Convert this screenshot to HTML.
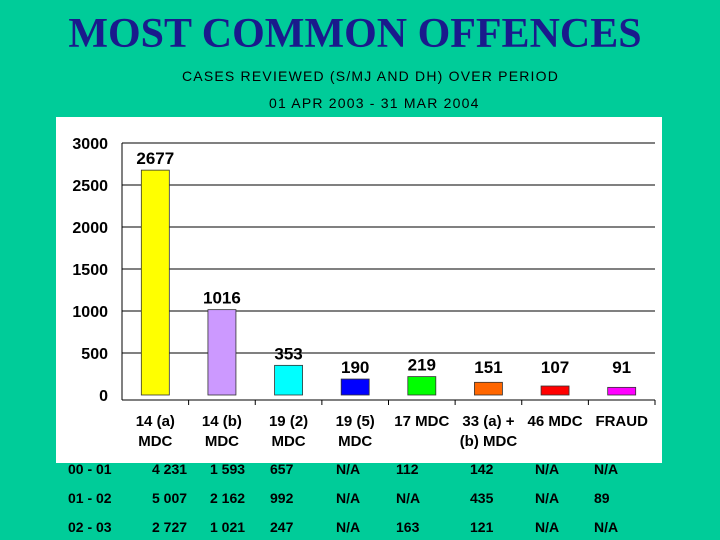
<!DOCTYPE html>
<html><head><meta charset="utf-8"><style>
body{margin:0;width:720px;height:540px;background:#00cc99;overflow:hidden;font-family:"Liberation Sans",sans-serif;position:relative}
.t{position:absolute;white-space:nowrap}
</style></head><body>
<div class="t" style="left:0;width:710px;text-align:center;top:10px;font-family:'Liberation Serif',serif;font-size:42px;font-weight:bold;color:#1a1a8c">MOST COMMON OFFENCES</div>
<div class="t" style="left:182px;top:68px;font-size:14px;letter-spacing:1.2px;color:#000">CASES REVIEWED (S/MJ AND DH) OVER PERIOD</div>
<div class="t" style="left:269px;top:95px;font-size:14px;letter-spacing:1.2px;color:#000">01 APR 2003 - 31 MAR 2004</div>
<svg width="720" height="540" style="position:absolute;left:0;top:0">
<rect x="56" y="117" width="606" height="346" fill="#fff"/>
<g id="g"></g>
</svg>
<div id="tbl"></div>
<script>
const categories=[["14 (a)","MDC"],["14 (b)","MDC"],["19 (2)","MDC"],["19 (5)","MDC"],["17 MDC",""],["33 (a) +","(b) MDC"],["46 MDC",""],["FRAUD",""]];
const values=[2677,1016,353,190,219,151,107,91];
const colors=["#ffff00","#cc99ff","#00ffff","#0000ff","#00ff00","#ff6600","#ff0000","#ff00ff"];
const ticks=[0,500,1000,1500,2000,2500,3000];
const rowLabels=["00 - 01","01 - 02","02 - 03"];
const rows=[["4 231","1 593","657","N/A","112","142","N/A","N/A"],["5 007","2 162","992","N/A","N/A","435","N/A","89"],["2 727","1 021","247","N/A","163","121","N/A","N/A"]];
const NS="http://www.w3.org/2000/svg",g=document.getElementById('g');
const x0=122,x1=655,yT=143,yB=395,max=3000;
const y=v=>yB-(v/max)*(yB-yT);
const bw=(x1-x0)/categories.length;
const cx=i=>x0+bw*(i+0.5);
function mk(t,a){const e=document.createElementNS(NS,t);for(const k in a)e.setAttribute(k,a[k]);g.appendChild(e);return e;}
ticks.forEach(t=>{
 if(t>0){const l=mk('line',{x1:x0,x2:x1,y1:y(t),y2:y(t),stroke:'#000','stroke-width':1});
 
 }
 const tx=mk('text',{x:x0-14,y:y(t)+6,'text-anchor':'end','font-size':16,'font-weight':'bold','font-family':'Liberation Sans'});
 tx.textContent=t;
 
 
});
const ax=mk('line',{x1:x0,x2:x0,y1:yT,y2:yB+5,stroke:'#000'});


const bx=mk('line',{x1:x0,x2:x1,y1:yB+5,y2:yB+5,stroke:'#000'});


values.forEach((v,i)=>{
 const r=mk('rect',{x:cx(i)-14,y:y(v),width:28,height:yB-y(v),fill:colors[i],stroke:'#333','stroke-width':0.8});
 
 
 const tk=mk('line',{x1:x0+bw*(i+1),x2:x0+bw*(i+1),y1:yB+5,y2:yB+10,stroke:'#000'});
 
 
 const lb=mk('text',{x:cx(i),y:Math.min(y(v)-6,yB-22),'text-anchor':'middle','font-size':17,'font-weight':'bold','font-family':'Liberation Sans'});
 lb.textContent=v;
 
 
 categories[i].forEach((s,k)=>{if(!s)return;
  const c=mk('text',{x:cx(i),y:426+k*20,'text-anchor':'middle','font-size':15,'font-weight':'bold','font-family':'Liberation Sans'});
  c.textContent=s;
  
  });
});
const tb=document.getElementById('tbl');
const colX=[152,210,270,336,396,470,535,594];
rowLabels.forEach((r,j)=>{
 const top=461+j*29;
 const d=document.createElement('div');d.className='t';d.style.cssText=`left:68px;top:${top}px;font-size:14px;font-weight:bold`;d.textContent=r;
 
 
 tb.appendChild(d);
 rows[j].forEach((s,k)=>{const e=document.createElement('div');e.className='t';e.style.cssText=`left:${colX[k]}px;top:${top}px;font-size:14px;font-weight:bold`;e.textContent=s;
 
 
 tb.appendChild(e);});
});
</script>
</body></html>
